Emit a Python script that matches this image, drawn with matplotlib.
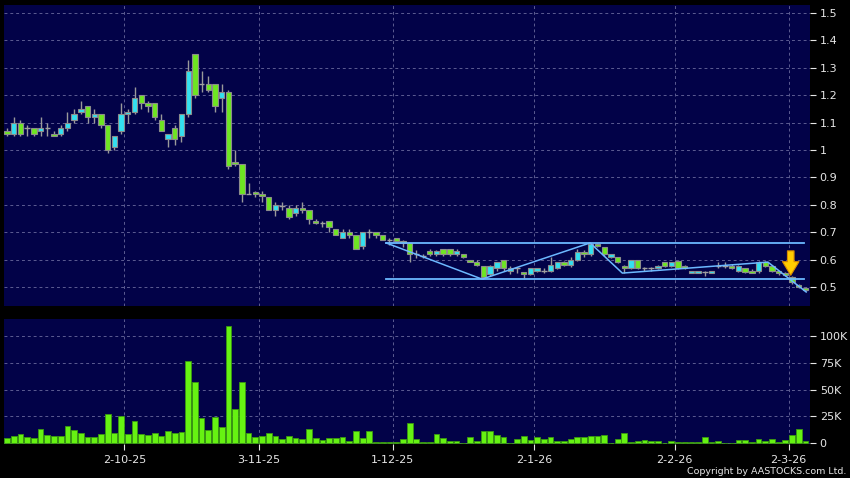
import matplotlib

matplotlib.use("Agg")
import matplotlib.pyplot as plt  # noqa: E402
import numpy as np  # noqa: E402

# --- Data (trading-day index 0 = 5 Sep 2025) ---

OPEN = [
    1.07, 1.06, 1.10, 1.08, 1.08, 1.07, 1.08, 1.06, 1.06, 1.08,
    1.11, 1.14, 1.16, 1.12, 1.13, 1.09, 1.01, 1.07, 1.13, 1.14,
    1.20, 1.17, 1.17, 1.11, 1.04, 1.08, 1.05, 1.13, 1.35, 1.24,
    1.24, 1.24, 1.19, 1.21, 0.955, 0.95, 0.84, 0.848, 0.84, 0.83,
    0.78, 0.797, 0.79, 0.77, 0.79, 0.78, 0.74, 0.733, 0.74, 0.71,
    0.68, 0.70, 0.69, 0.65, 0.70, 0.70, 0.69, 0.67, 0.678, 0.669,
    0.66, 0.62, 0.615, 0.63, 0.62, 0.638, 0.638, 0.62, 0.62, 0.60,
    0.59, 0.578, 0.547, 0.568, 0.60, 0.56, 0.568, 0.556, 0.547, 0.56,
    0.56, 0.558, 0.568, 0.59, 0.58, 0.60, 0.629, 0.62, 0.658, 0.646,
    0.608, 0.608, 0.578, 0.568, 0.599, 0.568, 0.568, 0.568, 0.59, 0.578,
    0.595, 0.578, 0.552, 0.552, 0.555, 0.552, 0.578, 0.578, 0.578, 0.559,
    0.568, 0.56, 0.559, 0.59, 0.578, 0.558, 0.55, 0.538, 0.508, 0.497,
]
HIGH = [
    1.08, 1.12, 1.11, 1.09, 1.08, 1.12, 1.10, 1.07, 1.09, 1.14,
    1.15, 1.18, 1.16, 1.15, 1.13, 1.09, 1.05, 1.17, 1.15, 1.23,
    1.20, 1.18, 1.17, 1.13, 1.06, 1.09, 1.13, 1.33, 1.35, 1.29,
    1.27, 1.24, 1.24, 1.22, 1.00, 0.95, 0.88, 0.85, 0.85, 0.83,
    0.81, 0.81, 0.80, 0.80, 0.81, 0.78, 0.75, 0.74, 0.74, 0.71,
    0.71, 0.71, 0.69, 0.70, 0.71, 0.70, 0.69, 0.68, 0.68, 0.67,
    0.66, 0.635, 0.62, 0.64, 0.635, 0.64, 0.64, 0.64, 0.62, 0.60,
    0.60, 0.578, 0.58, 0.59, 0.60, 0.578, 0.575, 0.556, 0.57, 0.57,
    0.57, 0.61, 0.59, 0.595, 0.61, 0.64, 0.635, 0.66, 0.66, 0.646,
    0.622, 0.61, 0.58, 0.60, 0.60, 0.575, 0.575, 0.58, 0.59, 0.59,
    0.60, 0.58, 0.56, 0.56, 0.56, 0.56, 0.59, 0.59, 0.585, 0.58,
    0.57, 0.565, 0.595, 0.595, 0.58, 0.558, 0.555, 0.54, 0.51, 0.50,
]
LOW = [
    1.05, 1.05, 1.05, 1.05, 1.05, 1.05, 1.05, 1.05, 1.05, 1.07,
    1.10, 1.13, 1.10, 1.10, 1.08, 0.99, 1.00, 1.06, 1.10, 1.13,
    1.15, 1.14, 1.11, 1.07, 1.01, 1.02, 1.03, 1.12, 1.19, 1.21,
    1.21, 1.14, 1.14, 0.93, 0.94, 0.81, 0.84, 0.83, 0.81, 0.78,
    0.76, 0.78, 0.75, 0.76, 0.77, 0.73, 0.73, 0.72, 0.70, 0.69,
    0.68, 0.68, 0.64, 0.64, 0.68, 0.68, 0.67, 0.655, 0.665, 0.647,
    0.59, 0.605, 0.605, 0.615, 0.615, 0.615, 0.615, 0.615, 0.605, 0.59,
    0.578, 0.53, 0.54, 0.56, 0.56, 0.547, 0.55, 0.532, 0.545, 0.555,
    0.55, 0.555, 0.565, 0.578, 0.575, 0.595, 0.61, 0.615, 0.645, 0.615,
    0.605, 0.588, 0.55, 0.565, 0.565, 0.56, 0.56, 0.565, 0.575, 0.575,
    0.565, 0.565, 0.55, 0.55, 0.54, 0.55, 0.57, 0.57, 0.565, 0.555,
    0.55, 0.55, 0.55, 0.575, 0.556, 0.545, 0.54, 0.512, 0.495, 0.485,
]
CLOSE = [
    1.06, 1.10, 1.06, 1.08, 1.06, 1.08, 1.08, 1.05, 1.08, 1.10,
    1.13, 1.15, 1.12, 1.13, 1.09, 1.00, 1.05, 1.13, 1.14, 1.19,
    1.17, 1.16, 1.12, 1.07, 1.06, 1.04, 1.13, 1.29, 1.20, 1.24,
    1.22, 1.16, 1.21, 0.94, 0.95, 0.84, 0.84, 0.84, 0.832, 0.78,
    0.80, 0.797, 0.757, 0.79, 0.78, 0.75, 0.735, 0.733, 0.72, 0.69,
    0.70, 0.69, 0.64, 0.70, 0.70, 0.69, 0.67, 0.67, 0.669, 0.66,
    0.62, 0.62, 0.615, 0.62, 0.63, 0.62, 0.62, 0.63, 0.608, 0.592,
    0.58, 0.538, 0.578, 0.59, 0.568, 0.568, 0.568, 0.547, 0.568, 0.568,
    0.56, 0.58, 0.59, 0.58, 0.60, 0.628, 0.619, 0.656, 0.648, 0.619,
    0.619, 0.59, 0.568, 0.599, 0.568, 0.568, 0.568, 0.578, 0.578, 0.59,
    0.568, 0.568, 0.558, 0.558, 0.555, 0.558, 0.578, 0.578, 0.568, 0.578,
    0.556, 0.552, 0.59, 0.578, 0.558, 0.551, 0.545, 0.519, 0.50, 0.488,
]
VOLUME_K = [
    4.6, 6.8, 8.6, 5.5, 4.6, 12.9, 7.4, 6.5, 6.8, 16.3,
    12.3, 9.5, 6.2, 6.2, 8.9, 27.7, 9.2, 25.2, 8.6, 20.3,
    8.3, 7.7, 9.8, 7.1, 11.1, 9.2, 10.2, 76.9, 56.6, 23.1,
    12.3, 24.6, 15.1, 109.2, 31.7, 57.2, 9.2, 5.8, 7.1, 9.8,
    7.1, 3.7, 6.8, 4.9, 4.3, 12.9, 4.6, 2.8, 4.6, 4.6,
    5.8, 1.8, 11.4, 5.2, 11.1, 0.9, 1.5, 0.9, 1.2, 4.0,
    19.1, 4.0, 1.5, 1.5, 8.6, 5.2, 2.5, 2.2, 0.6, 5.8,
    2.2, 11.4, 11.4, 8.0, 6.2, 0.6, 4.0, 6.8, 3.1, 6.2,
    4.0, 5.8, 2.2, 2.2, 4.3, 5.8, 5.8, 7.1, 6.5, 7.4,
    0.6, 4.0, 9.2, 0.9, 2.5, 3.4, 2.5, 2.5, 0.6, 1.8,
    0.9, 1.5, 1.5, 0.9, 5.8, 1.5, 2.2, 0.6, 0.3, 3.1,
    2.8, 1.2, 3.7, 1.8, 4.3, 1.2, 2.8, 8.0, 13.2, 2.5,
]

# date gridlines sit half a slot before the first trading day of each label
DATE_POS = [17.5, 37.5, 57.5, 78.5, 99.5, 116.5]
DATE_LABELS = ["2-10-25", "3-11-25", "1-12-25", "2-1-26", "2-2-26", "2-3-26"]

PRICE_TICKS = [0.5, 0.6, 0.7, 0.8, 0.9, 1.0, 1.1, 1.2, 1.3, 1.4, 1.5]
PRICE_LABELS = ["0.5", "0.6", "0.7", "0.8", "0.9", "1", "1.1", "1.2", "1.3", "1.4", "1.5"]
VOL_TICKS = [0, 25, 50, 75, 100]
VOL_LABELS = ["0", "25K", "50K", "75K", "100K"]

# drawn-on channel / zigzag annotation (index, price)
CHANNEL_X = [56.5, 118.8]
CHANNEL_TOP = 0.661
CHANNEL_BOT = 0.529
ZIGZAG_X = [56.5, 70.8, 86.9, 91.7, 113.4, 119.1]
ZIGZAG_Y = [0.661, 0.529, 0.661, 0.551, 0.591, 0.482]

# --- Style ------------------------------------------------------------

BG = "#020248"
GRID = "#5c5c92"
TXT = "#e6e6e6"
UP = "#33e0f0"
DOWN = "#6ee622"
EDGE = "#8c8c8c"
LINE = "#6cb8ff"

W, H = 850, 478
fig = plt.figure(figsize=(W / 100, H / 100), dpi=100, facecolor="black")
ax_p = fig.add_axes([4 / W, 1 - 305.7 / H, 806 / W, 300.7 / H], facecolor=BG)
ax_v = fig.add_axes([4 / W, 1 - 444 / H, 806 / W, 125 / H], facecolor=BG, sharex=ax_p)

o = np.array(OPEN)
h = np.array(HIGH)
lo = np.array(LOW)
c = np.array(CLOSE)
x = np.arange(len(o))

up = c > o
dn = c < o
flat = c == o

ax_p.vlines(x, lo, h, color="#9a9a9a", linewidth=1.0, zorder=2)
ax_p.bar(x[up], (c - o)[up], bottom=o[up], width=0.8,
         color=UP, edgecolor=EDGE, linewidth=0.8, zorder=3)
ax_p.bar(x[dn], (o - c)[dn], bottom=c[dn], width=0.8,
         color=DOWN, edgecolor=EDGE, linewidth=0.8, zorder=3)
ax_p.hlines(o[flat], x[flat] - 0.4, x[flat] + 0.4, color="#a0a0a0",
            linewidth=1.0, zorder=3)

for yv in (CHANNEL_TOP, CHANNEL_BOT):
    ax_p.plot(CHANNEL_X, [yv, yv], color=LINE, linewidth=1.3, zorder=4)
ax_p.plot(ZIGZAG_X, ZIGZAG_Y, color=LINE, linewidth=1.1, zorder=4)

ax_p.annotate(
    "", xy=(116.8, 0.543), xytext=(116.8, 0.632),
    arrowprops=dict(arrowstyle="simple,head_length=0.7,head_width=0.85,tail_width=0.34",
                    fc="#ffcc00", ec="#d88a00", lw=0.8,
                    shrinkA=0, shrinkB=0, mutation_scale=14),
    zorder=6,
)

ax_v.bar(x, VOLUME_K, width=0.86, color="#66f212", edgecolor="#3a9a10",
         linewidth=0.6, zorder=3)

# --- Axes -------------------------------------------------------------

for ax in (ax_p, ax_v):
    ax.set_xlim(-0.45, 119.67)
    for s in ax.spines.values():
        s.set_visible(False)
    ax.yaxis.tick_right()
    ax.tick_params(axis="y", colors=TXT, labelsize=8, length=4, width=0.8, pad=3)
    ax.set_xticks(DATE_POS)
    ax.grid(True, color=GRID, linestyle=(0, (3, 3)), linewidth=0.7, zorder=0)
    ax.set_axisbelow(True)

ax_p.set_ylim(0.432, 1.529)
ax_p.set_yticks(PRICE_TICKS)
ax_p.set_yticklabels(PRICE_LABELS)
ax_p.tick_params(axis="x", length=0, labelbottom=False)

ax_v.set_ylim(-0.65, 115.6)
ax_v.set_yticks(VOL_TICKS)
ax_v.set_yticklabels(VOL_LABELS)
ax_v.set_xticklabels(DATE_LABELS)
ax_v.tick_params(axis="x", colors=TXT, labelsize=8, length=4, width=0.8, pad=4)

fig.text(846 / W, 1 - 471 / H, "Copyright by AASTOCKS.com Ltd.", color=TXT,
         fontsize=6.8, ha="right", va="center")

fig.savefig("out.png", dpi=100, facecolor="black")
plt.close(fig)
